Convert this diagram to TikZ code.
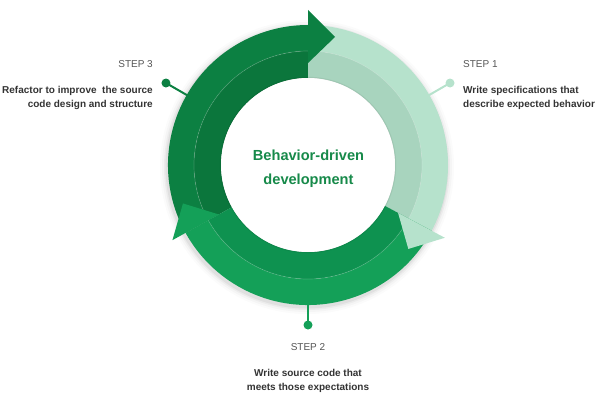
\documentclass[tikz,border=0pt]{standalone}
\usepackage{fontspec}
\setmainfont{Liberation Sans}
\definecolor{cthreeo}{HTML}{0C8042}
\definecolor{cthreei}{HTML}{0B763C}
\definecolor{coneo}{HTML}{B6E2CC}
\definecolor{conei}{HTML}{A8D4BE}
\definecolor{ctwoo}{HTML}{14A058}
\definecolor{ctwoi}{HTML}{0E9250}
\definecolor{centergreen}{HTML}{178A4A}
\definecolor{stepgray}{HTML}{555555}
\definecolor{desctext}{HTML}{333333}
\tikzset{
  leaderdot/.style={circle, fill=#1, inner sep=0pt, minimum size=9pt},
  leader/.style={draw=#1, line width=2pt},
  steptitle/.style={font=\fontsize{10}{12}\selectfont, text=stepgray, inner sep=0pt},
  desc/.style={font=\bfseries\fontsize{10}{14.5}\selectfont, text=desctext, inner sep=0pt},
  centertext/.style={font=\bfseries\fontsize{14.6}{23.3}\selectfont, text=centergreen, inner sep=0pt, align=center},
  seam/.style={draw=white, draw opacity=0.18, line width=0.7pt}
}
% #1 start angle, #2 end angle, #3 outer colour, #4 inner colour
\newcommand\ringband[4]{%
  \fill[#3] (#1:140) arc[start angle=#1, end angle=#2, radius=140] -- (#2:114)
     arc[start angle=#2, end angle=#1, radius=114] -- cycle;
  \fill[#4] (#1:114) arc[start angle=#1, end angle=#2, radius=114] -- (#2:87)
     arc[start angle=#2, end angle=#1, radius=87] -- cycle;
  \draw[seam] (#1:114) arc[start angle=#1, end angle=#2, radius=114];
}
% #1 end angle, #2 colour
\newcommand\ringhead[2]{%
  \fill[#2] (#1:155) -- ({128*cos(#1)+27*sin(#1)},{128*sin(#1)-27*cos(#1)}) -- (#1:102) -- cycle;
}
\begin{document}
\begin{tikzpicture}[x=1pt, y=1pt]
\useasboundingbox (0,0) rectangle (600,400);
\begin{scope}[shift={(308,235)}]
  % soft shadow
  \foreach \r/\o in {147/0.015,145/0.025,143/0.035,141.5/0.05}
    \fill[black, opacity=\o] (-1,-2) circle[radius=\r];
  % leaders
  \coordinate (r3) at (150:130);
  \coordinate (r1) at (30:130);
  \coordinate (r2) at (270:130);
  \node[leaderdot=cthreeo] (d3) at (150:164) {};
  \node[leaderdot=coneo] (d1) at (30:164) {};
  \node[leaderdot=ctwoo] (d2) at (270:160) {};
  \draw[leader=cthreeo] (d3.center) -- (r3);
  \draw[leader=coneo] (d1.center) -- (r1);
  \draw[leader=ctwoo] (d2.center) -- (r2);
  % bands
  \ringband{209}{90}{cthreeo}{cthreei}
  \ringband{90}{-28}{coneo}{conei}
  \ringband{332}{209}{ctwoo}{ctwoi}
  % arrow heads
  \ringhead{90}{cthreeo}
  \ringhead{-28}{coneo}
  \ringhead{209}{ctwoo}
  % white centre
  \fill[white] (0,0) circle[radius=87];
  \draw[black, opacity=0.06, line width=1.2pt] (0,0) circle[radius=87.6];
\end{scope}
\node[centertext, anchor=base] (center) at (308.5,216) {Behavior-driven\\development};
% step 3
\node[steptitle, anchor=base east] (s3t) at (153,332.7) {STEP 3};
\node[desc, align=right, anchor=base east] (s3d) at (153,292.3) {Refactor to improve\ \ the source\\code design and structure};
% step 1
\node[steptitle, anchor=base west] (s1t) at (463,332.7) {STEP 1};
\node[desc, align=left, anchor=base west] (s1d) at (463,292.3) {Write specifications that\\describe expected behavior};
% step 2
\node[steptitle, anchor=base] (s2t) at (308,49.3) {STEP 2};
\node[desc, align=center, anchor=base] (s2d) at (308,9.3) {Write source code that\\meets those expectations};
\end{tikzpicture}
\end{document}
